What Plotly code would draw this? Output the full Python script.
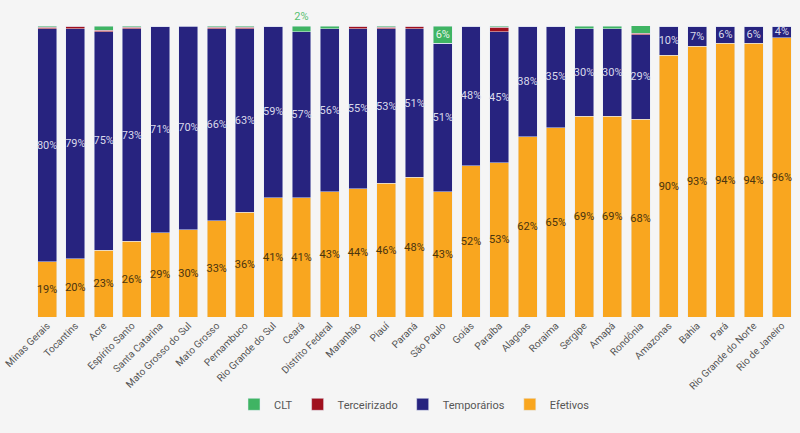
import plotly.graph_objects as go

estados = ["Minas Gerais", "Tocantins", "Acre", "Espírito Santo", "Santa Catarina",
           "Mato Grosso do Sul", "Mato Grosso", "Pernambuco", "Rio Grande do Sul", "Ceará",
           "Distrito Federal", "Maranhão", "Piauí", "Paraná", "São Paulo", "Goiás",
           "Paraíba", "Alagoas", "Roraima", "Sergipe", "Amapá", "Rondônia", "Amazonas",
           "Bahia", "Pará", "Rio Grande do Norte", "Rio de Janeiro"]

efetivos = [19, 20, 23, 26, 29, 30, 33, 36, 41, 41, 43, 44, 46, 48, 43, 52, 53, 62, 65, 69, 69, 68, 90, 93, 94, 94, 96]
temporarios = [80, 79, 75, 73, 71, 70, 66, 63, 59, 57, 56, 55, 53, 51, 51, 48, 45, 38, 35, 30, 30, 29, 10, 7, 6, 6, 4]
terceirizado = [0.5, 1, 0.5, 0.5, 0, 0.3, 0.5, 0.5, 0, 0, 0, 1, 0.5, 1, 0, 0, 1.5, 0, 0, 0, 0, 0.5, 0, 0, 0, 0, 0]
clt = [0.5, 0, 1.5, 0.5, 0, 0, 0.5, 0.5, 0, 2, 1, 0, 0.5, 0, 6, 0.3, 0.5, 0, 0, 1, 1, 2.7, 0, 0, 0, 0, 0]
clt_labels = ["", "", "", "", "", "", "", "", "", "2%", "", "", "", "", "6%", "", "", "", "", "", "", "3%", "", "", "", "", ""]
clt_pos = ["inside"] * 9 + ["outside"] + ["inside"] * 11 + ["outside"] + ["inside"] * 5

fig = go.Figure()
fig.add_trace(go.Bar(
    x=estados, y=efetivos, name="Efetivos", marker_color="#f9a61f",
    text=[f"{v}%" for v in efetivos], textposition="inside", insidetextanchor="middle",
    textangle=0, constraintext="none",
    textfont=dict(color="#4a3410", size=11, family="Roboto"),
))
fig.add_trace(go.Bar(
    x=estados, y=temporarios, name="Temporários", marker_color="#27237f",
    text=[f"{v}%" for v in temporarios], textposition="inside", insidetextanchor="middle",
    textangle=0, constraintext="none",
    textfont=dict(color="#d9d9ea", size=11, family="Roboto"),
))
fig.add_trace(go.Bar(
    x=estados, y=terceirizado, name="Terceirizado", marker_color="#a0101e",
    textposition="none",
))
fig.add_trace(go.Bar(
    x=estados, y=clt, name="CLT", marker_color="#3fb463",
    text=clt_labels, textposition=clt_pos, insidetextanchor="middle",
    textangle=0, constraintext="none",
    insidetextfont=dict(color="#e8f5ea", size=11, family="Roboto"),
    outsidetextfont=dict(color="#55c070", size=11, family="Roboto"),
    cliponaxis=False,
))

fig.update_layout(
    barmode="stack",
    bargap=0.33,
    width=800, height=433,
    margin=dict(l=33, r=4, t=26, b=116, autoexpand=False),
    paper_bgcolor="#f5f5f5",
    plot_bgcolor="#f5f5f5",
    font=dict(family="Roboto", color="#555555"),
    uniformtext=dict(minsize=8, mode="show"),
    legend=dict(orientation="h", x=0.5, xanchor="center", y=-0.30, yanchor="middle",
                traceorder="reversed", font=dict(size=11, color="#555555")),
    showlegend=True,
)
fig.update_xaxes(tickangle=-45, tickfont=dict(size=10, color="#555555"), showgrid=False,
                 showline=False, ticks="", automargin=False)
fig.update_yaxes(range=[0, 100], visible=False, showgrid=False, automargin=False)

fig.write_html("out.html")
